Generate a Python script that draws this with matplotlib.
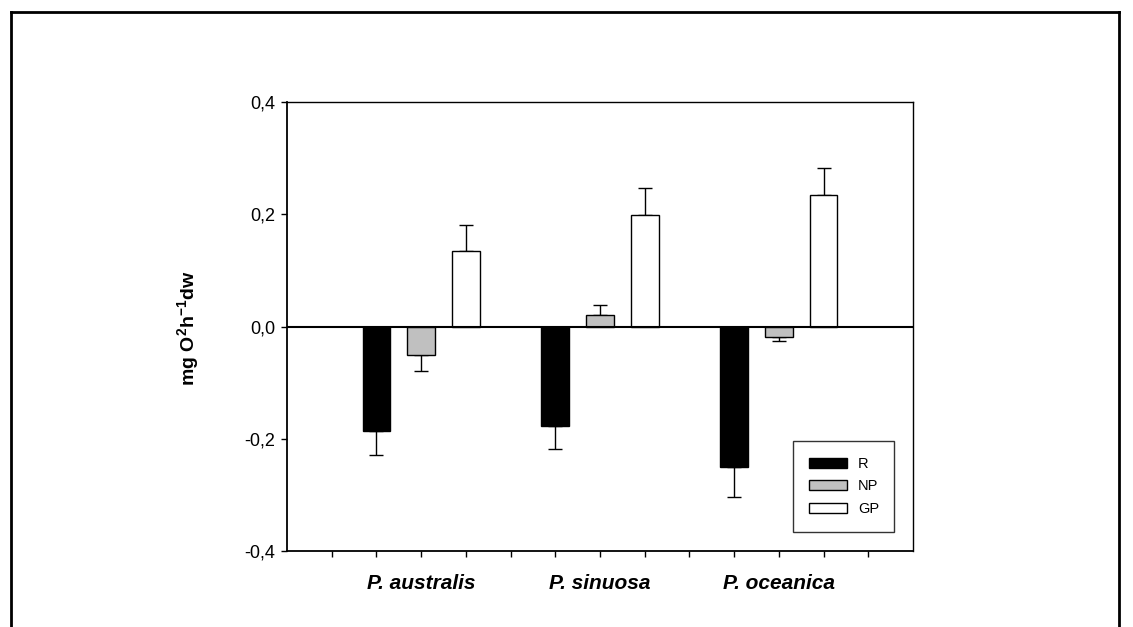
import numpy as np
import matplotlib
matplotlib.use("Agg")
import matplotlib.pyplot as plt
from matplotlib.patches import Patch
from matplotlib.lines import Line2D

# ---- data ----
categories = ["P. australis", "P. sinuosa", "P. oceanica"]
series_names = ["R", "NP", "GP"]
R_vals = [-0.186, -0.178, -0.251]
R_err = [0.043, 0.040, 0.053]
NP_vals = [-0.051, 0.021, -0.018]
NP_err = [0.028, 0.018, 0.007]
GP_vals = [0.134, 0.199, 0.234]
GP_err = [0.047, 0.048, 0.048]
y_ticks = [-0.4, -0.2, 0.0, 0.2, 0.4]
y_ticklabels = ["-0,4", "-0,2", "0,0", "0,2", "0,4"]

plt.rcParams["font.family"] = ["Liberation Sans", "DejaVu Sans"]
plt.rcParams["mathtext.default"] = "regular"

fig = plt.figure(figsize=(11.33, 6.27), dpi=100)
ax = fig.add_axes([287 / 1133, 1 - 551 / 627, (913 - 287) / 1133, (551 - 102) / 627])

colors = ["black", "#c0c0c0", "white"]
values = [R_vals, NP_vals, GP_vals]
errors = [R_err, NP_err, GP_err]
group_start = np.array([2, 6, 10])
width = 0.62

for i, (vals, errs, col, name) in enumerate(zip(values, errors, colors, series_names)):
    vals = np.asarray(vals)
    errs = np.asarray(errs)
    x = group_start + i
    ax.bar(x, vals, width=width, color=col, edgecolor="black", linewidth=1.0, zorder=2, label=name)
    lower = np.where(vals < 0, errs, 0)
    upper = np.where(vals >= 0, errs, 0)
    ax.errorbar(x, vals, yerr=[lower, upper], fmt="none", ecolor="black",
                elinewidth=1.0, capsize=5, capthick=1.0, zorder=1)

ax.axhline(0, color="black", linewidth=1.5, zorder=3)

ax.set_xlim(0, 14)
ax.set_ylim(-0.4, 0.4)
ax.set_yticks(y_ticks)
ax.set_yticklabels(y_ticklabels, fontsize=13)

xt = np.arange(1, 14)
ax.set_xticks(xt)
cat_pos = list(group_start + 1)
labels = [categories[cat_pos.index(t)] if t in cat_pos else "" for t in xt]
ax.set_xticklabels(labels, fontsize=15, fontweight="bold", fontstyle="italic")
ax.tick_params(axis="x", direction="out", length=4.5, width=1.0, pad=12)
ax.tick_params(axis="y", direction="out", length=4.5, width=1.0, pad=4)

for s in ax.spines.values():
    s.set_linewidth(1.0)
    s.set_color("black")
ax.spines["left"].set_linewidth(1.3)
ax.spines["bottom"].set_linewidth(1.3)

handles = [Patch(facecolor=c, edgecolor="black", linewidth=1.0) for c in colors]
leg = ax.legend(handles, series_names, loc="upper left",
                bbox_to_anchor=((793 - 287) / 626, (551 - 530) / 449, (894 - 793) / 626, (530 - 441) / 449),
                mode="expand", borderaxespad=0, frameon=True, fancybox=False,
                edgecolor="black", fontsize=10.5, handlelength=2.6, handleheight=0.68,
                handletextpad=0.75, labelspacing=0.58, borderpad=1.1)
leg.get_frame().set_linewidth(1.0)

fig.text(188 / 1133, 1 - 328 / 627, "mg O$^{2}$h$^{-1}$dw", rotation=90,
         ha="center", va="center", fontsize=14, fontweight="bold")

# figure frame
bl, br, bt = 11 / 1133, 1119 / 1133, 1 - 12 / 627
fig.add_artist(Line2D([bl, bl], [-0.01, bt], transform=fig.transFigure, color="black", linewidth=2.0))
fig.add_artist(Line2D([bl, br], [bt, bt], transform=fig.transFigure, color="black", linewidth=2.0))
fig.add_artist(Line2D([br, br], [-0.01, bt], transform=fig.transFigure, color="black", linewidth=2.0))

fig.savefig("out.png", dpi=100)
